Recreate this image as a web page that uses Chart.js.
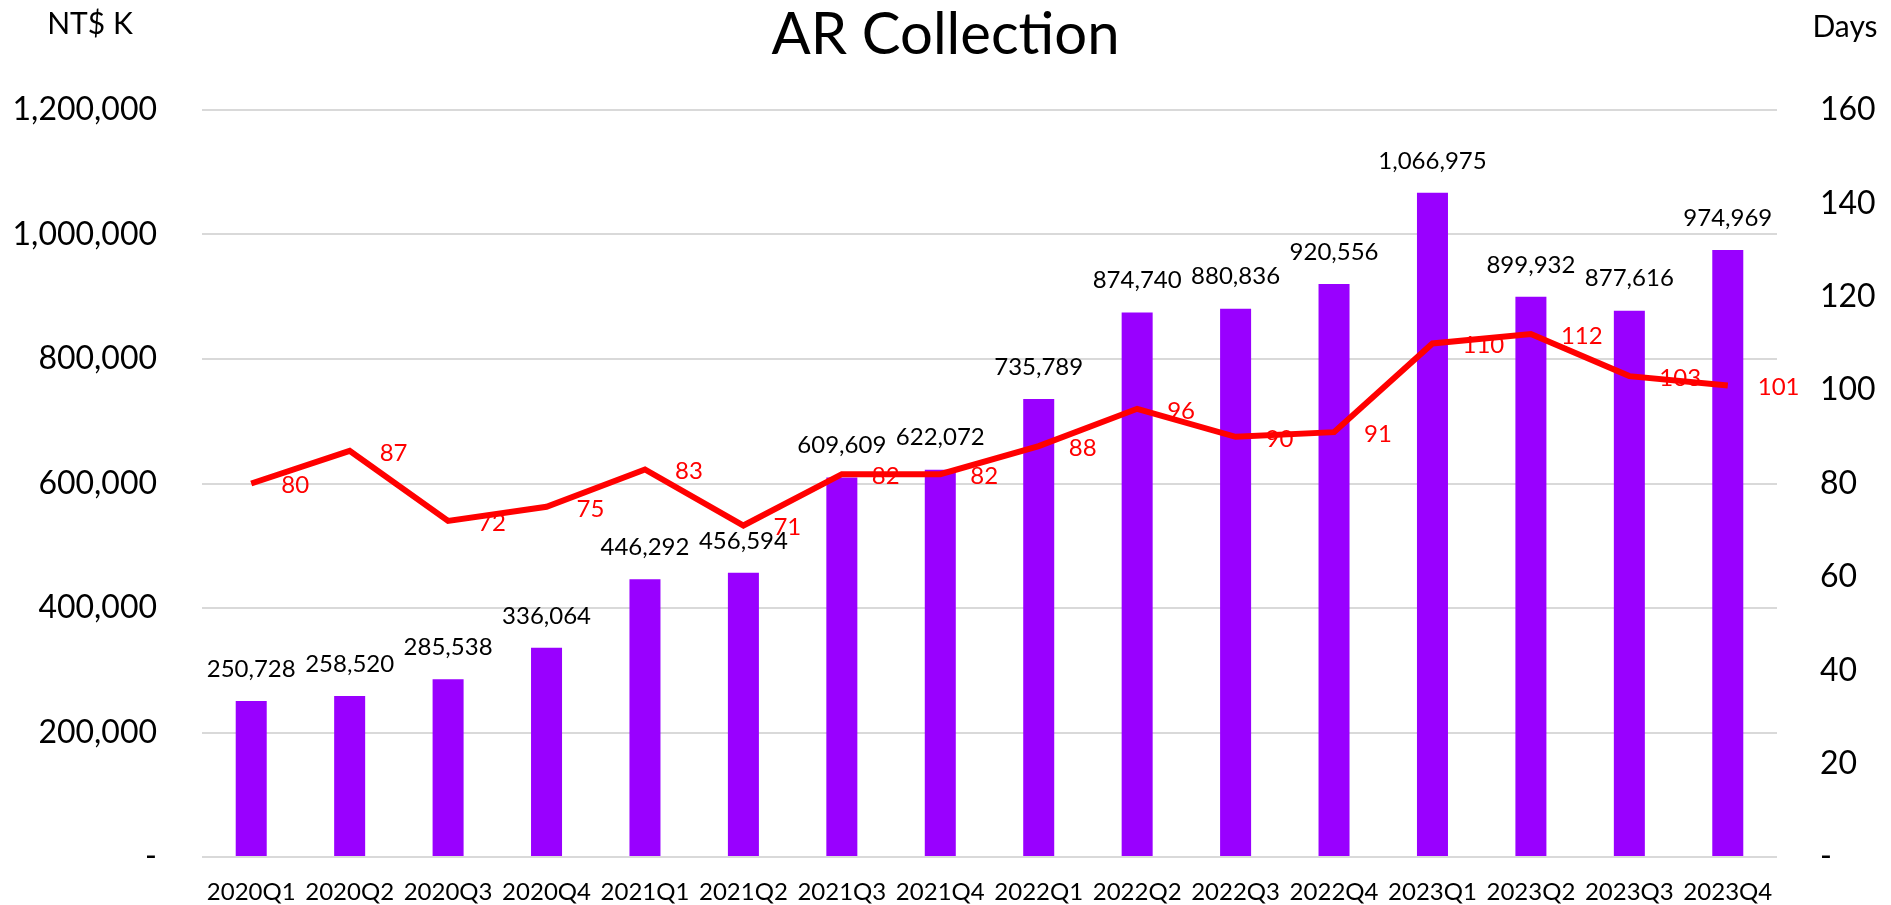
<!DOCTYPE html>
<html>
<head>
<meta charset="utf-8">
<script src="https://cdn.jsdelivr.net/npm/chart.js@4.4.1/dist/chart.umd.min.js"></script>
<style>
  html, body { margin: 0; padding: 0; background: #ffffff; }
  #wrap { width: 1891px; height: 905px; position: relative; }
</style>
</head>
<body>
<div id="wrap"><canvas id="c" width="1891" height="905"></canvas></div>
<script>
const categories = ['2020Q1','2020Q2','2020Q3','2020Q4','2021Q1','2021Q2','2021Q3','2021Q4',
                    '2022Q1','2022Q2','2022Q3','2022Q4','2023Q1','2023Q2','2023Q3','2023Q4'];
const arValues = [250728, 258520, 285538, 336064, 446292, 456594, 609609, 622072,
                  735789, 874740, 880836, 920556, 1066975, 899932, 877616, 974969];
const daysValues = [80, 87, 72, 75, 83, 71, 82, 82, 88, 96, 90, 91, 110, 112, 103, 101];
const chartTitle = 'AR Collection';
const leftAxisTitle = 'NT$ K';
const rightAxisTitle = 'Days';

const FONT = "Lato, 'Open Sans', sans-serif";

const labelPlugin = {
  id: 'labels',
  afterDatasetsDraw(chart) {
    const ctx = chart.ctx;
    ctx.save();
    const barMeta = chart.getDatasetMeta(0);
    ctx.font = '24px ' + FONT;
    ctx.fillStyle = '#000000';
    ctx.textAlign = 'center';
    ctx.textBaseline = 'middle';
    barMeta.data.forEach((el, i) => {
      ctx.fillText(arValues[i].toLocaleString('en-US'), el.x, el.y - 32);
    });
    const lineMeta = chart.getDatasetMeta(1);
    ctx.fillStyle = '#FF0000';
    ctx.textAlign = 'left';
    lineMeta.data.forEach((el, i) => {
      ctx.fillText(String(daysValues[i]), el.x + 30, el.y + 2);
    });
    ctx.restore();
  },
  afterDraw(chart) {
    const ctx = chart.ctx;
    ctx.save();
    ctx.font = '30px ' + FONT;
    ctx.fillStyle = '#000000';
    ctx.textBaseline = 'middle';
    ctx.textAlign = 'center';
    ctx.fillText(leftAxisTitle, 90, 24);
    ctx.fillText(rightAxisTitle, 1845, 27);
    ctx.restore();
  }
};

function fixVertical(width) {
  return function (scale) {
    scale.width = width;
    scale.paddingTop = 0;
    scale.paddingBottom = 0;
  };
}

new Chart(document.getElementById('c'), {
  data: {
    labels: categories,
    datasets: [
      {
        type: 'bar',
        label: 'AR',
        data: arValues,
        yAxisID: 'y',
        backgroundColor: '#9900FF',
        borderWidth: 0,
        categoryPercentage: 1,
        barPercentage: 0.315,
        order: 2
      },
      {
        type: 'line',
        label: 'Days',
        data: daysValues,
        yAxisID: 'y1',
        borderColor: '#FF0000',
        backgroundColor: '#FF0000',
        borderWidth: 6,
        pointRadius: 0,
        tension: 0,
        order: 1
      }
    ]
  },
  options: {
    responsive: false,
    animation: false,
    devicePixelRatio: 1,
    layout: { padding: { left: 0, right: 0, top: 0, bottom: 0 } },
    plugins: {
      legend: { display: false },
      tooltip: { enabled: false },
      title: {
        display: true,
        text: chartTitle,
        color: '#000000',
        font: { family: FONT, size: 58, weight: 'normal' },
        padding: { top: 0, bottom: 40.4 }
      }
    },
    scales: {
      x: {
        grid: { display: false, drawTicks: false },
        border: { display: false },
        ticks: { color: '#000000', font: { family: FONT, size: 24 }, padding: 21, maxRotation: 0, autoSkip: false },
        afterFit(scale) { scale.height = 48; scale.paddingLeft = 0; scale.paddingRight = 0; }
      },
      y: {
        position: 'left',
        min: 0, max: 1200000,
        grid: { color: '#D9D9D9', lineWidth: 2, drawTicks: false },
        border: { display: false },
        ticks: {
          stepSize: 200000,
          color: '#000000',
          font: { family: FONT, size: 32 },
          padding: 45,
          callback: v => v === 0 ? '-' : v.toLocaleString('en-US')
        },
        afterFit: fixVertical(202)
      },
      y1: {
        position: 'right',
        min: 0, max: 160,
        grid: { display: false, drawTicks: false },
        border: { display: false },
        ticks: {
          stepSize: 20,
          color: '#000000',
          font: { family: FONT, size: 32 },
          padding: 43,
          callback: v => v === 0 ? '-' : String(v)
        },
        afterFit: fixVertical(114)
      }
    }
  },
  plugins: [labelPlugin]
});
</script>
</body>
</html>
